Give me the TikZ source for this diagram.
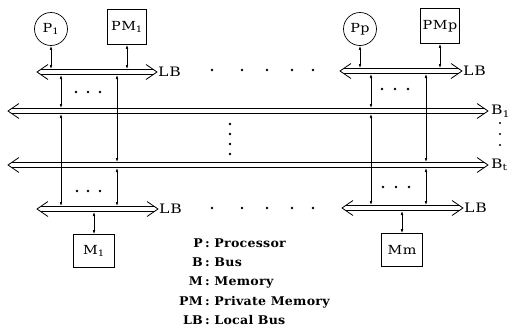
\documentclass[tikz,border=0pt]{standalone}
\usepackage{fontspec}
\setmainfont{DejaVu Serif}
\usepackage{tikz}
\usetikzlibrary{arrows.meta}

% hollow bus: double line with open heads at both ends
\newcommand{\busdraw}[2]{%
  \draw[busline] (#1) -- (#2);
  \draw[bushead] ([shift={(11,-7.5)}]#1) -- (#1) -- ([shift={(11,7.5)}]#1);
  \draw[bushead] ([shift={(-11,-7.5)}]#2) -- (#2) -- ([shift={(-11,7.5)}]#2);}

\begin{document}
\begin{tikzpicture}[x=1pt,y=-1pt,
    proc/.style={circle,draw,line width=0.7pt,minimum size=33pt,inner sep=0pt,font=\fontsize{12.5}{14}\selectfont\addfontfeatures{FakeStretch=1.15,LetterSpace=4}},
    mem/.style={draw,line width=0.7pt,minimum width=39pt,minimum height=35pt,inner sep=0pt,font=\fontsize{12.5}{14}\selectfont\addfontfeatures{FakeStretch=1.15,LetterSpace=4}},
    busline/.style={double,double distance=4.4pt,line width=0.8pt,shorten <=3.5pt,shorten >=3.5pt},
    bushead/.style={line width=0.8pt,line join=miter},
    link/.style={{Latex[length=4pt,width=2.6pt]}-{Latex[length=4pt,width=2.6pt]},line width=0.6pt},
    tobus/.style={link,shorten >=3pt},
    btwbus/.style={link,shorten <=3pt,shorten >=3pt},
    lbl/.style={anchor=west,inner sep=1pt,font=\fontsize{13}{15}\selectfont\addfontfeatures{FakeStretch=1.2,LetterSpace=6}},
    legfont/.style={inner sep=0pt,font=\bfseries\fontsize{12}{14}\selectfont\addfontfeatures{FakeStretch=1.05,LetterSpace=2}},
    legkey/.style={legfont,anchor=base east},
    legtext/.style={legfont,anchor=base west}
]
\useasboundingbox (0,0) rectangle (515,330);

%%% units and local buses
\node[proc] (p1)  at (51,29)  {P\textsubscript{1}};
\node[mem]  (pm1) at (127,27) {PM\textsubscript{1}};
\node[proc] (pp)  at (360,29) {Pp};
\node[mem]  (pmp) at (440,26) {PMp};
\node[mem,minimum width=41pt,minimum height=33pt] (m1) at (94,251) {M\textsubscript{1}};
\node[mem,minimum width=41pt,minimum height=33pt] (mm) at (402,250) {Mm};

% bus end points
\coordinate (lb1w) at (37,72);   \coordinate (lb1e) at (157,72);
\coordinate (lbpw) at (340,71);  \coordinate (lbpe) at (462,71);
\coordinate (b1w)  at (8,111);   \coordinate (b1e)  at (488,111);
\coordinate (btw)  at (8,165);   \coordinate (bte)  at (488,165);
\coordinate (lbm1w) at (37,209); \coordinate (lbm1e) at (158,209);
\coordinate (lbmmw) at (342,208);\coordinate (lbmme) at (463,208);
% columns of the bus taps
\coordinate (c1) at (61,0);  \coordinate (c2) at (117,0);
\coordinate (c3) at (371,0); \coordinate (c4) at (426,0);

% buses
\busdraw{lb1w}{lb1e}
\busdraw{lbpw}{lbpe}
\busdraw{b1w}{b1e}
\busdraw{btw}{bte}
\busdraw{lbm1w}{lbm1e}
\busdraw{lbmmw}{lbmme}

\node[lbl] (lb1txt) at (lb1e) {LB};
\node[lbl] (lbptxt) at (lbpe) {LB};
\node[lbl] (lbm1txt) at (lbm1e) {LB};
\node[lbl] (lbmmtxt) at (lbmme) {LB};
\node[lbl,xshift=2pt] (b1txt) at (b1e) {B\textsubscript{1}};
\node[lbl,xshift=2pt] (bttxt) at (bte) {B\textsubscript{t}};

% units to local buses
\draw[tobus] (p1) -- (p1 |- lb1w);
\draw[tobus] (pm1) -- (pm1 |- lb1w);
\draw[tobus] (pp) -- (pp |- lbpw);
\draw[tobus] (pmp) -- (pmp |- lbpw);
\draw[tobus] (m1) -- (m1 |- lbm1w);
\draw[tobus] (mm) -- (mm |- lbmmw);

% local buses to B1 .. Bt
\draw[btwbus] (c1 |- lb1w) -- (c1 |- b1w);
\draw[btwbus] (c2 |- lb1w) -- (c2 |- btw);
\draw[btwbus] (c1 |- b1w) -- (c1 |- lbm1w);
\draw[btwbus] (c2 |- btw) -- (c2 |- lbm1w);
\draw[btwbus] (c3 |- lbpw) -- (c3 |- b1w);
\draw[btwbus] (c4 |- lbpw) -- (c4 |- btw);
\draw[btwbus] (c3 |- b1w) -- (c3 |- lbmmw);
\draw[btwbus] (c4 |- btw) -- (c4 |- lbmmw);

% ellipsis dots
\fill (76,92) circle (1.3) (88,92) circle (1.3) (100,92) circle (1.3);
\fill (77,191) circle (1.3) (88,191) circle (1.3) (100,191) circle (1.3);
\fill (382,89) circle (1.3) (395,89) circle (1.3) (408,89) circle (1.3);
\fill (383,187) circle (1.3) (396,187) circle (1.3) (409,187) circle (1.3);
\fill (212,70) circle (1.3) (242,70) circle (1.3) (267,70) circle (1.3) (292,70) circle (1.3) (313,70) circle (1.3);
\fill (212,208) circle (1.3) (242,208) circle (1.3) (267,208) circle (1.3) (292,208) circle (1.3) (313,208) circle (1.3);
\fill (230,124) circle (1.3) (230,134) circle (1.3) (230,144) circle (1.3) (230,154) circle (1.3);
\fill (500,123) circle (1.1) (500,134) circle (1.1) (500,145) circle (1.1);

%%% legend
\node[legkey]  (kp)  at (203,247) {P};
\node[legtext] (tp)  at (203,247) {\,:\ Processor};
\node[legkey]  (kb)  at (203,266) {B};
\node[legtext] (tb)  at (203,266) {\,:\ Bus};
\node[legkey]  (km)  at (203,285.5) {M};
\node[legtext] (tm)  at (203,285.5) {\,:\ Memory};
\node[legkey]  (kpm) at (203,305) {PM};
\node[legtext] (tpm) at (203,305) {\,:\ Private Memory};
\node[legkey]  (klb) at (203,324) {LB};
\node[legtext] (tlb) at (203,324) {\,:\ Local Bus};
\end{tikzpicture}
\end{document}
